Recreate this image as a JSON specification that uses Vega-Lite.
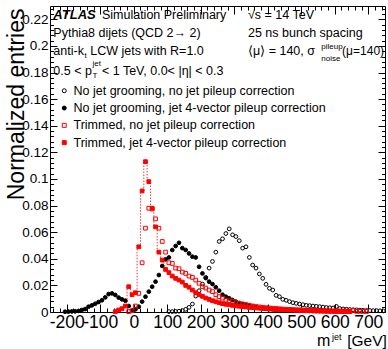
{
  "$schema": "https://vega.github.io/schema/vega-lite/v6.json",
  "width": 335,
  "height": 306,
  "autosize": {"type": "none"},
  "padding": {"left": 50, "top": 6, "right": 3, "bottom": 37},
  "background": "white",
  "config": {
    "view": {"stroke": "black", "strokeWidth": 1},
    "font": "Liberation Sans",
    "axis": {"domain": false, "grid": false, "labelColor": "black", "tickColor": "black", "tickWidth": 1, "labelFont": "Liberation Sans", "titleColor": "black", "labelOverlap": false, "labelFlush": false, "labelBound": false},
    "text": {"font": "Liberation Sans", "color": "black"}
  },
  "datasets": {
    "pts": [
      {"s":"A","m":105,"v":0.0003},{"s":"A","m":115,"v":0.0003},{"s":"A","m":125,"v":0.0004},{"s":"A","m":135,"v":0.0006},{"s":"A","m":145,"v":0.001},{"s":"A","m":155,"v":0.002},{"s":"A","m":165,"v":0.0035},{"s":"A","m":175,"v":0.006},{"s":"A","m":185,"v":0.012},{"s":"A","m":195,"v":0.016},{"s":"A","m":205,"v":0.021},{"s":"A","m":215,"v":0.026},{"s":"A","m":225,"v":0.033},{"s":"A","m":235,"v":0.038},{"s":"A","m":245,"v":0.045},{"s":"A","m":255,"v":0.053},{"s":"A","m":265,"v":0.055},{"s":"A","m":275,"v":0.059},{"s":"A","m":285,"v":0.0625},{"s":"A","m":295,"v":0.058},{"s":"A","m":305,"v":0.0567},{"s":"A","m":315,"v":0.0536},{"s":"A","m":325,"v":0.048},{"s":"A","m":335,"v":0.049},{"s":"A","m":345,"v":0.041},{"s":"A","m":355,"v":0.0353},{"s":"A","m":365,"v":0.033},{"s":"A","m":375,"v":0.0286},{"s":"A","m":385,"v":0.0253},{"s":"A","m":395,"v":0.0208},{"s":"A","m":405,"v":0.0178},{"s":"A","m":415,"v":0.0165},{"s":"A","m":425,"v":0.0125},{"s":"A","m":435,"v":0.0115},{"s":"A","m":445,"v":0.0095},{"s":"A","m":455,"v":0.0088},{"s":"A","m":465,"v":0.0078},{"s":"A","m":475,"v":0.007},{"s":"A","m":485,"v":0.0065},{"s":"A","m":495,"v":0.006},{"s":"A","m":505,"v":0.0055},{"s":"A","m":515,"v":0.005},{"s":"A","m":525,"v":0.0048},{"s":"A","m":535,"v":0.0045},{"s":"A","m":545,"v":0.0043},{"s":"A","m":555,"v":0.004},{"s":"A","m":565,"v":0.0037},{"s":"A","m":575,"v":0.0034},{"s":"A","m":585,"v":0.0032},{"s":"A","m":595,"v":0.003},{"s":"A","m":605,"v":0.0042},{"s":"A","m":615,"v":0.0026},{"s":"A","m":625,"v":0.0023},{"s":"A","m":635,"v":0.0021},{"s":"A","m":645,"v":0.0019},{"s":"A","m":655,"v":0.0017},{"s":"A","m":665,"v":0.0016},{"s":"A","m":675,"v":0.0014},{"s":"A","m":685,"v":0.0013},{"s":"A","m":695,"v":0.0012},{"s":"A","m":705,"v":0.0011},{"s":"A","m":715,"v":0.001},{"s":"A","m":725,"v":0.001},{"s":"A","m":735,"v":0.0009},{"s":"A","m":745,"v":0.0008},
      {"s":"B","m":-205,"v":0.0002},{"s":"B","m":-195,"v":0.0003},{"s":"B","m":-185,"v":0.0004},{"s":"B","m":-175,"v":0.0005},{"s":"B","m":-165,"v":0.0008},{"s":"B","m":-155,"v":0.0015},{"s":"B","m":-145,"v":0.0022},{"s":"B","m":-135,"v":0.004},{"s":"B","m":-125,"v":0.005},{"s":"B","m":-115,"v":0.0062},{"s":"B","m":-105,"v":0.0075},{"s":"B","m":-95,"v":0.0088},{"s":"B","m":-85,"v":0.011},{"s":"B","m":-75,"v":0.0135},{"s":"B","m":-65,"v":0.014},{"s":"B","m":-55,"v":0.0128},{"s":"B","m":-45,"v":0.0108},{"s":"B","m":-35,"v":0.0095},{"s":"B","m":-25,"v":0.0085},{"s":"B","m":-15,"v":0.0045},{"s":"B","m":-5,"v":0.0012},{"s":"B","m":5,"v":0.002},{"s":"B","m":15,"v":0.004},{"s":"B","m":25,"v":0.0078},{"s":"B","m":35,"v":0.0115},{"s":"B","m":45,"v":0.0153},{"s":"B","m":55,"v":0.019},{"s":"B","m":65,"v":0.0228},{"s":"B","m":75,"v":0.0278},{"s":"B","m":85,"v":0.0346},{"s":"B","m":95,"v":0.0396},{"s":"B","m":105,"v":0.041},{"s":"B","m":115,"v":0.0466},{"s":"B","m":125,"v":0.0496},{"s":"B","m":135,"v":0.052},{"s":"B","m":145,"v":0.048},{"s":"B","m":155,"v":0.0466},{"s":"B","m":165,"v":0.044},{"s":"B","m":175,"v":0.0416},{"s":"B","m":185,"v":0.041},{"s":"B","m":195,"v":0.034},{"s":"B","m":205,"v":0.029},{"s":"B","m":215,"v":0.0255},{"s":"B","m":225,"v":0.0228},{"s":"B","m":235,"v":0.021},{"s":"B","m":245,"v":0.0186},{"s":"B","m":255,"v":0.016},{"s":"B","m":265,"v":0.013},{"s":"B","m":275,"v":0.0115},{"s":"B","m":285,"v":0.0103},{"s":"B","m":295,"v":0.009},{"s":"B","m":305,"v":0.0078},{"s":"B","m":315,"v":0.0068},{"s":"B","m":325,"v":0.006},{"s":"B","m":335,"v":0.0053},{"s":"B","m":345,"v":0.0046},{"s":"B","m":355,"v":0.004},{"s":"B","m":365,"v":0.0035},{"s":"B","m":375,"v":0.003},{"s":"B","m":385,"v":0.0027},{"s":"B","m":395,"v":0.0024},{"s":"B","m":405,"v":0.0022},{"s":"B","m":415,"v":0.002},{"s":"B","m":425,"v":0.0018},{"s":"B","m":435,"v":0.0016},{"s":"B","m":445,"v":0.0015},{"s":"B","m":455,"v":0.0014},{"s":"B","m":465,"v":0.0013},{"s":"B","m":475,"v":0.0012},{"s":"B","m":485,"v":0.0011},{"s":"B","m":495,"v":0.001},{"s":"B","m":505,"v":0.0009},{"s":"B","m":515,"v":0.0009},{"s":"B","m":525,"v":0.0008},{"s":"B","m":535,"v":0.0007},{"s":"B","m":545,"v":0.0007},{"s":"B","m":555,"v":0.0006},{"s":"B","m":565,"v":0.0006},{"s":"B","m":575,"v":0.0005},{"s":"B","m":585,"v":0.0005},{"s":"B","m":595,"v":0.0005},{"s":"B","m":605,"v":0.0004},{"s":"B","m":615,"v":0.0004},{"s":"B","m":625,"v":0.0004},{"s":"B","m":635,"v":0.0003},{"s":"B","m":645,"v":0.0003},
      {"s":"C","m":-15,"v":0.0003},{"s":"C","m":-5,"v":0.001},{"s":"C","m":5,"v":0.0045},{"s":"C","m":15,"v":0.014},{"s":"C","m":25,"v":0.037},{"s":"C","m":35,"v":0.063},{"s":"C","m":45,"v":0.078},{"s":"C","m":55,"v":0.0774},{"s":"C","m":65,"v":0.07},{"s":"C","m":75,"v":0.063},{"s":"C","m":85,"v":0.053},{"s":"C","m":95,"v":0.045},{"s":"C","m":105,"v":0.037},{"s":"C","m":115,"v":0.0365},{"s":"C","m":125,"v":0.033},{"s":"C","m":135,"v":0.0325},{"s":"C","m":145,"v":0.03},{"s":"C","m":155,"v":0.029},{"s":"C","m":165,"v":0.027},{"s":"C","m":175,"v":0.026},{"s":"C","m":185,"v":0.024},{"s":"C","m":195,"v":0.0216},{"s":"C","m":205,"v":0.019},{"s":"C","m":215,"v":0.018},{"s":"C","m":225,"v":0.0165},{"s":"C","m":235,"v":0.0153},{"s":"C","m":245,"v":0.013},{"s":"C","m":255,"v":0.0115},{"s":"C","m":265,"v":0.0105},{"s":"C","m":275,"v":0.009},{"s":"C","m":285,"v":0.0085},{"s":"C","m":295,"v":0.0078},{"s":"C","m":305,"v":0.007},{"s":"C","m":315,"v":0.0064},{"s":"C","m":325,"v":0.006},{"s":"C","m":335,"v":0.0056},{"s":"C","m":345,"v":0.005},{"s":"C","m":355,"v":0.0045},{"s":"C","m":365,"v":0.0041},{"s":"C","m":375,"v":0.0038},{"s":"C","m":385,"v":0.0035},{"s":"C","m":395,"v":0.0032},{"s":"C","m":405,"v":0.003},{"s":"C","m":415,"v":0.0028},{"s":"C","m":425,"v":0.0026},{"s":"C","m":435,"v":0.0024},{"s":"C","m":445,"v":0.0022},{"s":"C","m":455,"v":0.002},{"s":"C","m":465,"v":0.0019},{"s":"C","m":475,"v":0.0018},{"s":"C","m":485,"v":0.0017},{"s":"C","m":495,"v":0.0016},{"s":"C","m":505,"v":0.0015},{"s":"C","m":515,"v":0.0014},{"s":"C","m":525,"v":0.0013},{"s":"C","m":535,"v":0.0012},{"s":"C","m":545,"v":0.0011},{"s":"C","m":555,"v":0.001},{"s":"C","m":565,"v":0.001},{"s":"C","m":575,"v":0.0009},{"s":"C","m":585,"v":0.0009},{"s":"C","m":595,"v":0.0008},{"s":"C","m":605,"v":0.0008},{"s":"C","m":615,"v":0.0007},{"s":"C","m":625,"v":0.0007},{"s":"C","m":635,"v":0.0006},{"s":"C","m":645,"v":0.0006},{"s":"C","m":655,"v":0.0012},{"s":"C","m":665,"v":0.0005},{"s":"C","m":675,"v":0.0005},{"s":"C","m":685,"v":0.0004},{"s":"C","m":695,"v":0.0004},
      {"s":"D","m":-55,"v":0.0003},{"s":"D","m":-45,"v":0.0015},{"s":"D","m":-35,"v":0.0025},{"s":"D","m":-25,"v":0.0045},{"s":"D","m":-15,"v":0.019},{"s":"D","m":-5,"v":0.013},{"s":"D","m":5,"v":0.0145},{"s":"D","m":15,"v":0.049},{"s":"D","m":25,"v":0.091},{"s":"D","m":35,"v":0.113},{"s":"D","m":45,"v":0.098},{"s":"D","m":55,"v":0.078},{"s":"D","m":65,"v":0.064},{"s":"D","m":75,"v":0.045},{"s":"D","m":85,"v":0.039},{"s":"D","m":95,"v":0.032},{"s":"D","m":105,"v":0.0296},{"s":"D","m":115,"v":0.027},{"s":"D","m":125,"v":0.0253},{"s":"D","m":135,"v":0.024},{"s":"D","m":145,"v":0.0225},{"s":"D","m":155,"v":0.02},{"s":"D","m":165,"v":0.0186},{"s":"D","m":175,"v":0.0165},{"s":"D","m":185,"v":0.0145},{"s":"D","m":195,"v":0.013},{"s":"D","m":205,"v":0.0118},{"s":"D","m":215,"v":0.0105},{"s":"D","m":225,"v":0.0095},{"s":"D","m":235,"v":0.0085},{"s":"D","m":245,"v":0.0077},{"s":"D","m":255,"v":0.007},{"s":"D","m":265,"v":0.0063},{"s":"D","m":275,"v":0.0058},{"s":"D","m":285,"v":0.0054},{"s":"D","m":295,"v":0.005},{"s":"D","m":305,"v":0.0046},{"s":"D","m":315,"v":0.0043},{"s":"D","m":325,"v":0.004},{"s":"D","m":335,"v":0.0038},{"s":"D","m":345,"v":0.0035},{"s":"D","m":355,"v":0.0033},{"s":"D","m":365,"v":0.0031},{"s":"D","m":375,"v":0.0029},{"s":"D","m":385,"v":0.0027},{"s":"D","m":395,"v":0.0025},{"s":"D","m":405,"v":0.0023},{"s":"D","m":415,"v":0.0021},{"s":"D","m":425,"v":0.002},{"s":"D","m":435,"v":0.0018},{"s":"D","m":445,"v":0.0017},{"s":"D","m":455,"v":0.0016},{"s":"D","m":465,"v":0.0015},{"s":"D","m":475,"v":0.0014},{"s":"D","m":485,"v":0.0013},{"s":"D","m":495,"v":0.0012},{"s":"D","m":505,"v":0.0011},{"s":"D","m":515,"v":0.001},{"s":"D","m":525,"v":0.001},{"s":"D","m":535,"v":0.0009},{"s":"D","m":545,"v":0.0008},{"s":"D","m":555,"v":0.0008},{"s":"D","m":565,"v":0.0007},{"s":"D","m":575,"v":0.0007},{"s":"D","m":585,"v":0.0006},{"s":"D","m":595,"v":0.0006},{"s":"D","m":605,"v":0.0005},{"s":"D","m":615,"v":0.0005},{"s":"D","m":625,"v":0.0004},{"s":"D","m":635,"v":0.0004},{"s":"D","m":645,"v":0.0003}
    ]
  },
  "layer": [
    {
      "data": {"name": "pts"},
      "transform": [{"filter": "datum.s == 'D'"}],
      "mark": {"type": "line", "interpolate": "step", "color": "#ff0000", "strokeWidth": 1, "strokeDash": [1.5, 1.5], "opacity": 0.8},
      "encoding": {
        "x": {"field": "m", "type": "quantitative", "scale": {"domain": [-250, 750], "nice": false, "zero": false},
          "axis": {"orient": "top", "values": [-240,-220,-200,-180,-160,-140,-120,-100,-80,-60,-40,-20,0,20,40,60,80,100,120,140,160,180,200,220,240,260,280,300,320,340,360,380,400,420,440,460,480,500,520,540,560,580,600,620,640,660,680,700,720,740], "labels": false, "title": null, "tickSize": {"condition": {"test": "datum.value % 100 == 0", "value": -8}, "value": -4}}},
        "y": {"field": "v", "type": "quantitative", "scale": {"domain": [0, 0.23], "nice": false},
          "axis": {"orient": "right", "values": [0,0.004,0.008,0.012,0.016,0.02,0.024,0.028,0.032,0.036,0.04,0.044,0.048,0.052,0.056,0.06,0.064,0.068,0.072,0.076,0.08,0.084,0.088,0.092,0.096,0.1,0.104,0.108,0.112,0.116,0.12,0.124,0.128,0.132,0.136,0.14,0.144,0.148,0.152,0.156,0.16,0.164,0.168,0.172,0.176,0.18,0.184,0.188,0.192,0.196,0.2,0.204,0.208,0.212,0.216,0.22,0.224,0.228], "labels": false, "title": null, "tickSize": {"condition": {"test": "abs(datum.value*50 - round(datum.value*50)) < 0.001", "value": -7}, "value": -3.5}}}
      }
    },
    {
      "data": {"name": "pts"},
      "mark": {"type": "point", "size": 14, "strokeWidth": 1, "opacity": 1},
      "encoding": {
        "x": {"field": "m", "type": "quantitative", "scale": {"domain": [-250, 750], "nice": false, "zero": false},
          "axis": {"orient": "bottom", "values": [-240,-220,-200,-180,-160,-140,-120,-100,-80,-60,-40,-20,0,20,40,60,80,100,120,140,160,180,200,220,240,260,280,300,320,340,360,380,400,420,440,460,480,500,520,540,560,580,600,620,640,660,680,700,720,740], "labelExpr": "datum.value % 100 == 0 ? '' + datum.value : ''", "labelFontSize": 17.5, "labelBaseline": "alphabetic", "labelPadding": 23, "title": null, "tickSize": {"condition": {"test": "datum.value % 100 == 0", "value": -8}, "value": -4}}},
        "y": {"field": "v", "type": "quantitative", "scale": {"domain": [0, 0.23], "nice": false},
          "axis": {"orient": "left", "values": [0,0.004,0.008,0.012,0.016,0.02,0.024,0.028,0.032,0.036,0.04,0.044,0.048,0.052,0.056,0.06,0.064,0.068,0.072,0.076,0.08,0.084,0.088,0.092,0.096,0.1,0.104,0.108,0.112,0.116,0.12,0.124,0.128,0.132,0.136,0.14,0.144,0.148,0.152,0.156,0.16,0.164,0.168,0.172,0.176,0.18,0.184,0.188,0.192,0.196,0.2,0.204,0.208,0.212,0.216,0.22,0.224,0.228], "labelExpr": "abs(datum.value*50 - round(datum.value*50)) < 0.001 ? format(datum.value, '.2~f') : ''", "labelFontSize": 13.5, "labelBaseline": "middle", "labelPadding": 9, "tickSize": {"condition": {"test": "abs(datum.value*50 - round(datum.value*50)) < 0.001", "value": -7}, "value": -3.5},
            "title": "Normalized entries", "titleFont": "Liberation Sans", "titleFontSize": 23, "titleFontWeight": "normal", "titleAngle": 270, "titleAlign": "right", "titleBaseline": "alphabetic", "titleX": -27, "titleY": 2}},
        "shape": {"field": "s", "type": "nominal", "scale": {"domain": ["A","B","C","D"], "range": ["circle","circle","square","square"]},
          "legend": {"orient": "none", "legendX": 8, "legendY": 78.5, "title": null, "labelFont": "Liberation Sans", "labelFontSize": 12.5, "labelColor": "black", "labelLimit": 400, "symbolSize": 16, "symbolStrokeWidth": 1, "rowPadding": 4.3, "labelOffset": 3, "padding": 0,
            "labelExpr": "datum.label == 'A' ? 'No jet grooming, no jet pileup correction' : datum.label == 'B' ? 'No jet grooming, jet 4-vector pileup correction' : datum.label == 'C' ? 'Trimmed, no jet pileup correction' : 'Trimmed, jet 4-vector pileup correction'"}},
        "stroke": {"field": "s", "type": "nominal", "scale": {"domain": ["A","B","C","D"], "range": ["black","black","#ff0000","#ff0000"]}},
        "fill": {"field": "s", "type": "nominal", "scale": {"domain": ["A","B","C","D"], "range": ["transparent","black","transparent","#ff0000"]}},
        "order": {"field": "s", "sort": "ascending"}
      }
    },
    {"data": {"values": [{}]}, "mark": {"type": "text", "text": "ATLAS", "align": "left", "baseline": "middle", "fontSize": 13, "fontStyle": "italic", "fontWeight": "bold"},
      "encoding": {"x": {"datum": -240, "type": "quantitative", "axis": null}, "y": {"datum": 0.2232, "type": "quantitative", "axis": null}}},
    {"data": {"values": [{}]}, "mark": {"type": "text", "text": "Simulation Preliminary", "align": "left", "baseline": "middle", "fontSize": 12.5},
      "encoding": {"x": {"datum": -95, "type": "quantitative", "axis": null}, "y": {"datum": 0.2232, "type": "quantitative", "axis": null}}},
    {"data": {"values": [{}]}, "mark": {"type": "text", "text": "√s = 14 TeV", "align": "left", "baseline": "middle", "fontSize": 12.5},
      "encoding": {"x": {"datum": 341, "type": "quantitative", "axis": null}, "y": {"datum": 0.2232, "type": "quantitative", "axis": null}}},
    {"data": {"values": [{}]}, "mark": {"type": "text", "text": "Pythia8 dijets (QCD 2→ 2)", "align": "left", "baseline": "middle", "fontSize": 12.5},
      "encoding": {"x": {"datum": -240, "type": "quantitative", "axis": null}, "y": {"datum": 0.2097, "type": "quantitative", "axis": null}}},
    {"data": {"values": [{}]}, "mark": {"type": "text", "text": "25 ns bunch spacing", "align": "left", "baseline": "middle", "fontSize": 12.5},
      "encoding": {"x": {"datum": 341, "type": "quantitative", "axis": null}, "y": {"datum": 0.2097, "type": "quantitative", "axis": null}}},
    {"data": {"values": [{}]}, "mark": {"type": "text", "text": "anti-k", "align": "left", "baseline": "middle", "fontSize": 12.5},
      "encoding": {"x": {"datum": -240, "type": "quantitative", "axis": null}, "y": {"datum": 0.1962, "type": "quantitative", "axis": null}}},
    {"data": {"values": [{}]}, "mark": {"type": "text", "text": "t", "align": "left", "baseline": "middle", "fontSize": 8},
      "encoding": {"x": {"datum": -147, "type": "quantitative", "axis": null}, "y": {"datum": 0.1925, "type": "quantitative", "axis": null}}},
    {"data": {"values": [{}]}, "mark": {"type": "text", "text": "LCW jets with R=1.0", "align": "left", "baseline": "middle", "fontSize": 12.5},
      "encoding": {"x": {"datum": -130, "type": "quantitative", "axis": null}, "y": {"datum": 0.1962, "type": "quantitative", "axis": null}}},
    {"data": {"values": [{}]}, "mark": {"type": "text", "text": "⟨μ⟩ = 140, σ", "align": "left", "baseline": "middle", "fontSize": 12.5},
      "encoding": {"x": {"datum": 341, "type": "quantitative", "axis": null}, "y": {"datum": 0.1962, "type": "quantitative", "axis": null}}},
    {"data": {"values": [{}]}, "mark": {"type": "text", "text": "pileup", "align": "left", "baseline": "middle", "fontSize": 8},
      "encoding": {"x": {"datum": 560, "type": "quantitative", "axis": null}, "y": {"datum": 0.1995, "type": "quantitative", "axis": null}}},
    {"data": {"values": [{}]}, "mark": {"type": "text", "text": "noise", "align": "left", "baseline": "middle", "fontSize": 8},
      "encoding": {"x": {"datum": 560, "type": "quantitative", "axis": null}, "y": {"datum": 0.1902, "type": "quantitative", "axis": null}}},
    {"data": {"values": [{}]}, "mark": {"type": "text", "text": "(μ=140)", "align": "left", "baseline": "middle", "fontSize": 12},
      "encoding": {"x": {"datum": 622, "type": "quantitative", "axis": null}, "y": {"datum": 0.1962, "type": "quantitative", "axis": null}}},
    {"data": {"values": [{}]}, "mark": {"type": "text", "text": "0.5 < p", "align": "left", "baseline": "middle", "fontSize": 12.5},
      "encoding": {"x": {"datum": -240, "type": "quantitative", "axis": null}, "y": {"datum": 0.1811, "type": "quantitative", "axis": null}}},
    {"data": {"values": [{}]}, "mark": {"type": "text", "text": "jet", "align": "left", "baseline": "middle", "fontSize": 8},
      "encoding": {"x": {"datum": -123, "type": "quantitative", "axis": null}, "y": {"datum": 0.1866, "type": "quantitative", "axis": null}}},
    {"data": {"values": [{}]}, "mark": {"type": "text", "text": "T", "align": "left", "baseline": "middle", "fontSize": 8},
      "encoding": {"x": {"datum": -123, "type": "quantitative", "axis": null}, "y": {"datum": 0.1772, "type": "quantitative", "axis": null}}},
    {"data": {"values": [{}]}, "mark": {"type": "text", "text": "< 1 TeV, 0.0< |η| < 0.3", "align": "left", "baseline": "middle", "fontSize": 12.5},
      "encoding": {"x": {"datum": -95, "type": "quantitative", "axis": null}, "y": {"datum": 0.1811, "type": "quantitative", "axis": null}}},
    {"data": {"values": [{}]}, "mark": {"type": "text", "text": "m", "align": "left", "baseline": "alphabetic", "fontSize": 16},
      "encoding": {"x": {"datum": 547, "type": "quantitative", "axis": null}, "y": {"datum": -0.0259, "type": "quantitative", "axis": null}}},
    {"data": {"values": [{}]}, "mark": {"type": "text", "text": "jet", "align": "left", "baseline": "alphabetic", "fontSize": 9},
      "encoding": {"x": {"datum": 592, "type": "quantitative", "axis": null}, "y": {"datum": -0.0207, "type": "quantitative", "axis": null}}},
    {"data": {"values": [{}]}, "mark": {"type": "text", "text": "[GeV]", "align": "left", "baseline": "alphabetic", "fontSize": 15.5},
      "encoding": {"x": {"datum": 637, "type": "quantitative", "axis": null}, "y": {"datum": -0.0259, "type": "quantitative", "axis": null}}}
  ],
  "resolve": {"axis": {"x": "independent", "y": "independent"}}
}
